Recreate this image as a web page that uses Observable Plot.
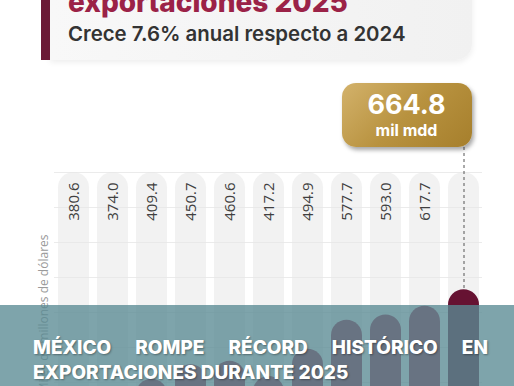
<!DOCTYPE html>
<html>
<head>
<meta charset="utf-8">
<script src="https://cdn.jsdelivr.net/npm/d3@7"></script>
<script src="https://cdn.jsdelivr.net/npm/@observablehq/plot@0.6"></script>
<style>
  html, body { margin: 0; padding: 0; background: #fff; }
  #wrap { position: relative; width: 514px; height: 386px; overflow: hidden; background: #fff; font-family: Inter, "Open Sans", sans-serif; }
  #chart { position: absolute; left: 0; top: 0; }
  #card { position: absolute; left: 50px; top: -20px; width: 422px; height: 80px; background: linear-gradient(90deg, #f8f8f8, #f1f1f1); border-bottom-right-radius: 16px; box-shadow: 0 2px 6px rgba(0,0,0,0.08); }
  #stripe { position: absolute; left: 41px; top: -20px; width: 9px; height: 80px; background: #6b1a36; }
  #title { position: absolute; left: 68px; top: -12px; font-size: 28px; font-weight: 800; color: #9b2247; line-height: 1; white-space: nowrap; }
  #subtitle { position: absolute; left: 68px; top: 24px; font-size: 20.4px; font-weight: 600; color: #333; line-height: 1; white-space: nowrap; }
  #badge { position: absolute; width: 130px; height: 64px; border-radius: 14px; background: linear-gradient(135deg, #d3b26b 0%, #b8923f 50%, #a67f2c 100%); box-shadow: 2px 3px 4px rgba(0,0,0,0.35); color: #fff; text-align: center; }
  #badge .v { font-size: 27px; font-weight: 700; line-height: 1; margin-top: 8px; }
  #badge .u { font-size: 16px; font-weight: 700; line-height: 1; margin-top: 4px; }
  #overlay { position: absolute; left: 0; top: 305px; width: 514px; height: 81px; background: rgba(90,139,148,0.78); }
  .cap { position: absolute; left: 33px; width: 455px; font-size: 19px; font-weight: 800; color: #fff; line-height: 25px; white-space: nowrap; text-shadow: 1px 1px 2px rgba(0,0,0,0.35); }
  #cap1 { top: 335px; text-align: justify; text-align-last: justify; white-space: normal; }
  #cap2 { top: 360px; }
</style>
</head>
<body>
<div id="wrap">
  <div id="chart"></div>
  <div id="card"></div>
  <div id="stripe"></div>
  <div id="title">exportaciones 2025</div>
  <div id="subtitle">Crece 7.6% anual respecto a 2024</div>
  <div id="badge"><div class="v"></div><div class="u"></div></div>
  <div id="overlay"></div>
  <div class="cap" id="cap1">MÉXICO ROMPE RÉCORD HISTÓRICO EN</div>
  <div class="cap" id="cap2">EXPORTACIONES DURANTE 2025</div>
</div>
<script>
const years = ["2015","2016","2017","2018","2019","2020","2021","2022","2023","2024","2025"];
const values = [380.6, 374.0, 409.4, 450.7, 460.6, 417.2, 494.9, 577.7, 593.0, 617.7, 664.8];
const backgroundMax = 1000;
const gridTicks = [0,100,200,300,400,500,600,700,800,900,1000];
const axisLabel = "Miles de millones de dólares";
const badgeUnit = "mil mdd";
const highlightYear = "2025";

const data = years.map((year, i) => ({year, value: values[i]}));
const last = data[data.length - 1];
const rest = data.filter(d => d.year !== highlightYear);

const chart = Plot.plot({
  width: 514,
  height: 522,
  marginTop: 172,
  marginBottom: 0,
  marginLeft: 54,
  marginRight: 32,
  style: {background: "transparent", fontFamily: "'Open Sans', sans-serif", overflow: "visible"},
  x: {domain: years, paddingInner: 0.216, paddingOuter: 0.02, axis: null},
  y: {domain: [0, backgroundMax], axis: null},
  marks: [
    Plot.barY(data, {x: "year", y: () => backgroundMax, fill: "#f2f2f2", rx: 15.5}),
    Plot.gridY(gridTicks, {stroke: "#e6e6e6", strokeOpacity: 1, strokeWidth: 0.8}),
    Plot.barY(data, {x: "year", y: "value", fill: d => d.year === highlightYear ? "#661232" : "#9b2247", rx: 15.5}),
    Plot.ruleX([last], {x: "year", y1: () => backgroundMax, y2: "value", insetTop: -25, stroke: "#555", strokeDasharray: "3,3", strokeWidth: 1}),
    Plot.text(rest, {x: "year", y: () => backgroundMax, text: d => d.value.toFixed(1), rotate: -90, textAnchor: "end", dy: 10, fontSize: 15, fill: "#404040"}),
    Plot.text([axisLabel], {frameAnchor: "top-left", text: d => d, rotate: -90, textAnchor: "end", dx: -15, dy: 62, fontSize: 12, fill: "#9a9a9a"})
  ]
});
document.getElementById("chart").appendChild(chart);

const xs = chart.scale("x");
const ys = chart.scale("y");
const cx = xs.apply(last.year) + xs.bandwidth / 2;
const badge = document.getElementById("badge");
badge.querySelector(".v").textContent = last.value.toFixed(1);
badge.querySelector(".u").textContent = badgeUnit;
badge.style.left = (cx + 8 - 130) + "px";
badge.style.top = (ys.apply(backgroundMax) - 25 - 64) + "px";
</script>
</body>
</html>
